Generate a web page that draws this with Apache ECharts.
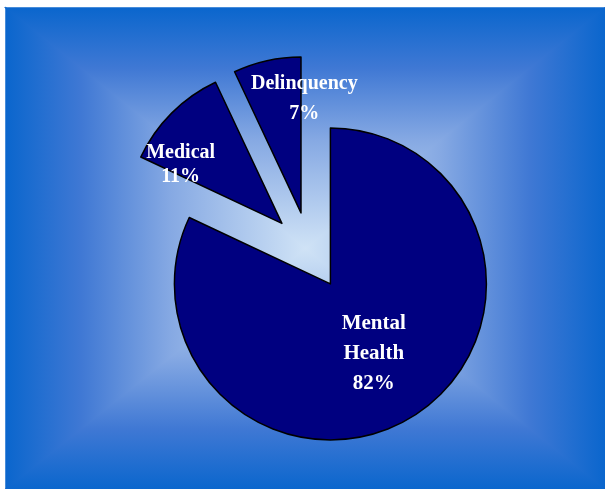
<!DOCTYPE html>
<html>
<head>
<meta charset="utf-8">
<script src="https://cdn.jsdelivr.net/npm/echarts@6/dist/echarts.min.js"></script>
<style>
html,body{margin:0;padding:0;background:#fff;}
#chart{width:605px;height:489px;}
</style>
</head>
<body>
<div id="chart"></div>
<script>
// ---- data ----
var categories = ['Mental Health', 'Medical', 'Delinquency'];
var values = [82, 11, 7];

// ---- layout / style ----
var labelOffsets = [[0, 1], [-44, -1], [21, -35]];
var labelLineHeights = [30, 24, 30];
var labelSizes = [21, 20, 20];

var chart = echarts.init(document.getElementById('chart'), null, {renderer: 'canvas'});

var bx0 = 6, by0 = 8, bx1 = 605, by1 = 489, cx = 305.5, cy = 248.5;
var stops = [
  {offset: 0, color: '#0a66cd'},
  {offset: 0.25, color: '#3f78d4'},
  {offset: 0.55, color: '#86a9e3'},
  {offset: 1, color: '#d0e3f6'}
];
function grad(x, y, x2, y2) {
  return new echarts.graphic.LinearGradient(x, y, x2, y2, stops);
}
function tri(pts, g) {
  return {type: 'polygon', z: -10, silent: true, shape: {points: pts},
    style: {fill: g, stroke: g, lineWidth: 1.5}};
}

var data = categories.map(function (c, i) {
  return {
    name: c,
    value: values[i],
    selected: true,
    label: {fontSize: labelSizes[i], lineHeight: labelLineHeights[i]}
  };
});

chart.setOption({
  animation: false,
  backgroundColor: '#ffffff',
  graphic: [
    {type: 'rect', z: -11, silent: true, shape: {x: bx0, y: by0, width: bx1 - bx0, height: by1 - by0}, style: {fill: '#6f97dc'}},
    tri([[bx0, by0], [bx1, by0], [cx, cy]], grad(0, 0, 0, 1)),
    tri([[bx0, by1], [bx1, by1], [cx, cy]], grad(0, 1, 0, 0)),
    tri([[bx0, by0], [bx0, by1], [cx, cy]], grad(0, 0, 1, 0)),
    tri([[bx1, by0], [bx1, by1], [cx, cy]], grad(1, 0, 0, 0))
  ],
  series: [{
    type: 'pie',
    center: [309.5, 251],
    radius: 156,
    startAngle: 90,
    clockwise: true,
    selectedMode: 'multiple',
    selectedOffset: 39,
    avoidLabelOverlap: false,
    itemStyle: {color: '#000080', borderColor: '#000000', borderWidth: 1.5},
    select: {itemStyle: {color: '#000080', borderColor: '#000000', borderWidth: 1.5}},
    emphasis: {disabled: true},
    label: {
      show: true,
      position: 'inside',
      color: '#ffffff',
      fontFamily: '"Liberation Serif", "Times New Roman", serif',
      fontWeight: 'bold',
      align: 'center',
      formatter: function (p) {
        return p.name.replace(' ', '\n') + '\n' + Math.round(p.percent) + '%';
      }
    },
    labelLine: {show: false},
    labelLayout: function (p) {
      var o = labelOffsets[p.dataIndex];
      return {dx: o[0], dy: o[1]};
    },
    data: data
  }]
});
</script>
</body>
</html>
